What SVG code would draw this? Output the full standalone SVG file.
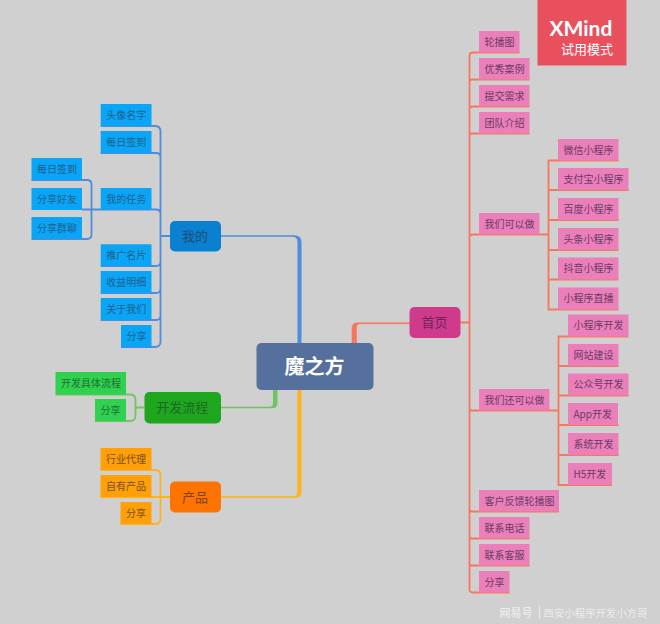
<svg xmlns="http://www.w3.org/2000/svg" width="660" height="624" viewBox="0 0 660 624">
<style>
text{font-family:"Noto Sans CJK SC","Noto Sans",sans-serif;font-size:10px;dominant-baseline:central;transform:translate(-.5px,-1px)}
.c{fill:none;stroke-width:1.8}
.r{stroke:#f8765e}.b{stroke:#4f8cdb}.g{stroke:#6fc55f}.y{stroke:#fbb320}
.p rect{fill:#ea7fb9}.p text{fill:#6b3a68}
.s rect{fill:#0aa5f6}.s text{fill:#1f5f8c}
.n rect{fill:#2fd14f}.n text{fill:#1f7034}
.o rect{fill:#ff9f0a}.o text{fill:#77500f}
.m text{font-size:13px}
</style>
<rect width="660" height="624" fill="#d0d0d0"/>
<g id="connectors">
<path class="c r" d="M460.500 322.500H469.500M519.500 52.500H473Q469.500 52.500 469.500 56V589Q469.500 592.500 473 592.500H509.500M469.500 82Q469.500 79.500 472 79.500H529.500M469.500 109Q469.500 106.500 472 106.500H529.500M469.500 136Q469.500 133.500 472 133.500H529.500M469.500 237Q469.500 234.500 472 234.500H548.500M469.500 408Q469.500 410.500 472 410.500H558.500M469.500 509Q469.500 511.500 472 511.500H559M469.500 536Q469.500 538.500 472 538.500H529.500M469.500 563Q469.500 565.500 472 565.500H529.500"/>
<path class="c r" d="M618.500 160.500H548.500V309.500H618.500M548.500 190H628.500M548.500 220H618.500M548.500 250H618.500M548.500 279.500H618.500M628.500 336.500H558.500V485H612M558.500 366H618.500M558.500 395.500H628.500M558.500 425H618.500M558.500 455H618.500"/>
<path class="c b" d="M170 236H160.500M100.700 126H155Q160.500 126 160.500 131.500V341.500Q160.500 347 155 347H121M100.700 153H156Q160.500 153 160.500 157M82 209.500H156Q160.500 209.500 160.500 214M100.700 266H156Q160.500 266 160.500 262M100.700 293H156Q160.500 293 160.500 289M100.700 320H156Q160.500 320 160.500 316"/>
<path class="c b" d="M31.500 180H87Q91.500 180 91.500 184.500V234.500Q91.500 239 87 239H31.500"/>
<path class="c g" d="M144.500 407.500H135.500M55.500 394.500H130Q135.500 394.500 135.500 400V415.500Q135.500 421 130 421H95"/>
<path class="c y" d="M170 497H100.500M100.500 470H155Q160.500 470 160.500 475.500V518.500Q160.500 524 155 524H120.500"/>
<path fill="#4f8cdb" d="M297.500 343V242Q297.500 236.800 292 236.800H221V235.200H294Q301.500 235.200 301.500 242V343Z"/>
<path fill="#6fc55f" d="M273 390V403Q273 406.800 269 406.800H221V408.300H272Q277.500 408.300 277.500 403V390Z"/>
<path fill="#fbb320" d="M297.300 390V492Q297.300 496.200 293 496.200H221V497.800H295Q301.500 497.800 301.500 492V390Z"/>
<path fill="#f8765e" d="M352 343V328Q352 322.800 357.500 322.800H409.500V323.700H360Q356.500 323.700 356.500 328V343Z" stroke="#f8765e" stroke-width=".6"/>
</g>
<g id="center"><rect x="256.500" y="343" width="117" height="47" rx="5" fill="#55709c"/><text x="315" y="366.500" text-anchor="middle" font-weight="700" fill="#fff" style="font-size:20px">魔之方</text></g>
<g id="n-home" class="m"><rect x="409.500" y="307" width="51" height="31" rx="5" fill="#cf3a8c"/><text x="435" y="322.500" text-anchor="middle" fill="#6a2858">首页</text></g>
<g id="n-mine" class="m"><rect x="170" y="221" width="51" height="30.500" rx="5" fill="#0a80d0"/><text x="195.500" y="236" text-anchor="middle" fill="#1f4f78">我的</text></g>
<g id="n-flow" class="m"><rect x="144.500" y="392" width="76.500" height="31.500" rx="5" fill="#1fa61f"/><text x="182.700" y="407.500" text-anchor="middle" fill="#1c6a26">开发流程</text></g>
<g id="n-prod" class="m"><rect x="170" y="481.500" width="51" height="31" rx="5" fill="#ff7300"/><text x="195.500" y="497" text-anchor="middle" fill="#7a4308">产品</text></g>
<g class="p">
<g id="p1"><rect x="479" y="31" width="40.500" height="21.500"/><text x="485" y="42">轮播图</text></g>
<g id="p2"><rect x="479" y="58" width="50.500" height="21.500"/><text x="485" y="69">优秀案例</text></g>
<g id="p3"><rect x="479" y="85" width="50.500" height="21.500"/><text x="485" y="96">提交需求</text></g>
<g id="p4"><rect x="479" y="112" width="50.500" height="21.500"/><text x="485" y="123">团队介绍</text></g>
<g id="p5"><rect x="479" y="213" width="60.500" height="21.500"/><text x="485" y="224">我们可以做</text></g>
<g id="p6"><rect x="479" y="389" width="70.500" height="21.500"/><text x="485" y="400">我们还可以做</text></g>
<g id="p7"><rect x="479" y="490" width="80" height="21.500"/><text x="485" y="501">客户反馈轮播图</text></g>
<g id="p8"><rect x="479" y="517" width="50.500" height="21.500"/><text x="485" y="528">联系电话</text></g>
<g id="p9"><rect x="479" y="544" width="50.500" height="21.500"/><text x="485" y="555">联系客服</text></g>
<g id="p10"><rect x="479" y="571" width="30.500" height="21.500"/><text x="485" y="582">分享</text></g>
<g id="p11"><rect x="558" y="139" width="60.500" height="21.500"/><text x="564" y="150">微信小程序</text></g>
<g id="p12"><rect x="558" y="168" width="70.500" height="22"/><text x="564" y="179">支付宝小程序</text></g>
<g id="p13"><rect x="558" y="198" width="60.500" height="22"/><text x="564" y="209">百度小程序</text></g>
<g id="p14"><rect x="558" y="228" width="60.500" height="22"/><text x="564" y="239">头条小程序</text></g>
<g id="p15"><rect x="558" y="257.500" width="60.500" height="22"/><text x="564" y="268.500">抖音小程序</text></g>
<g id="p16"><rect x="558" y="287.500" width="60.500" height="22"/><text x="564" y="298.500">小程序直播</text></g>
<g id="p17"><rect x="568" y="314.500" width="60.500" height="22"/><text x="574" y="325.500">小程序开发</text></g>
<g id="p18"><rect x="568" y="344" width="50.500" height="22"/><text x="574" y="355">网站建设</text></g>
<g id="p19"><rect x="568" y="373.500" width="60.500" height="22"/><text x="574" y="384.500">公众号开发</text></g>
<g id="p20"><rect x="568" y="403" width="50" height="22"/><text x="574" y="414">App开发</text></g>
<g id="p21"><rect x="568" y="433" width="50.500" height="22"/><text x="574" y="444">系统开发</text></g>
<g id="p22"><rect x="568" y="463" width="44" height="22"/><text x="574" y="474">H5开发</text></g>
</g>
<g class="s">
<g id="s1"><rect x="100.700" y="104" width="50.800" height="22"/><text x="106.700" y="115">头像名字</text></g>
<g id="s2"><rect x="100.700" y="131" width="50.800" height="22"/><text x="106.700" y="142">每日签到</text></g>
<g id="s3"><rect x="100.700" y="188" width="50.800" height="21.500"/><text x="106.700" y="199">我的任务</text></g>
<g id="s4"><rect x="100.700" y="244.300" width="50.800" height="21.700"/><text x="106.700" y="255">推广名片</text></g>
<g id="s5"><rect x="100.700" y="271" width="50.800" height="22"/><text x="106.700" y="282">收益明细</text></g>
<g id="s6"><rect x="100.700" y="298" width="50.800" height="22"/><text x="106.700" y="309">关于我们</text></g>
<g id="s7"><rect x="121" y="325" width="30.500" height="22"/><text x="127" y="336">分享</text></g>
<g id="s8"><rect x="31.500" y="158" width="50.500" height="22"/><text x="37.500" y="169">每日签到</text></g>
<g id="s9"><rect x="31.500" y="188" width="50.500" height="22"/><text x="37.500" y="199">分享好友</text></g>
<g id="s10"><rect x="31.500" y="217" width="50.500" height="22"/><text x="37.500" y="228">分享群聊</text></g>
</g>
<g class="n">
<g id="g1"><rect x="55.500" y="372" width="70.500" height="22.500"/><text x="61.500" y="383">开发具体流程</text></g>
<g id="g2"><rect x="95" y="399" width="31" height="22"/><text x="101" y="410">分享</text></g>
</g>
<g class="o">
<g id="o1"><rect x="100.500" y="448" width="51" height="22"/><text x="106.500" y="459">行业代理</text></g>
<g id="o2"><rect x="100.500" y="475" width="51" height="22"/><text x="106.500" y="486">自有产品</text></g>
<g id="o3"><rect x="120.500" y="502" width="31" height="22"/><text x="126.500" y="513">分享</text></g>
</g>
<g id="trial">
<rect x="537.500" y="0" width="89" height="65.500" fill="#e8505e"/>
<text x="550" y="28" fill="#fff" style="font-family:'Lato',sans-serif;font-size:21px;font-weight:700">XMind</text>
<text x="561.500" y="49" fill="#fff" style="font-size:13px">试用模式</text>
</g>
<g id="watermark" fill="#ececec">
<text x="500" y="613" style="font-size:11px;font-weight:500">网易号</text>
<rect x="539" y="606" width="1" height="13"/>
<text x="544" y="613" style="font-size:10.400px">西安小程序开发小方哥</text>
</g>
</svg>
